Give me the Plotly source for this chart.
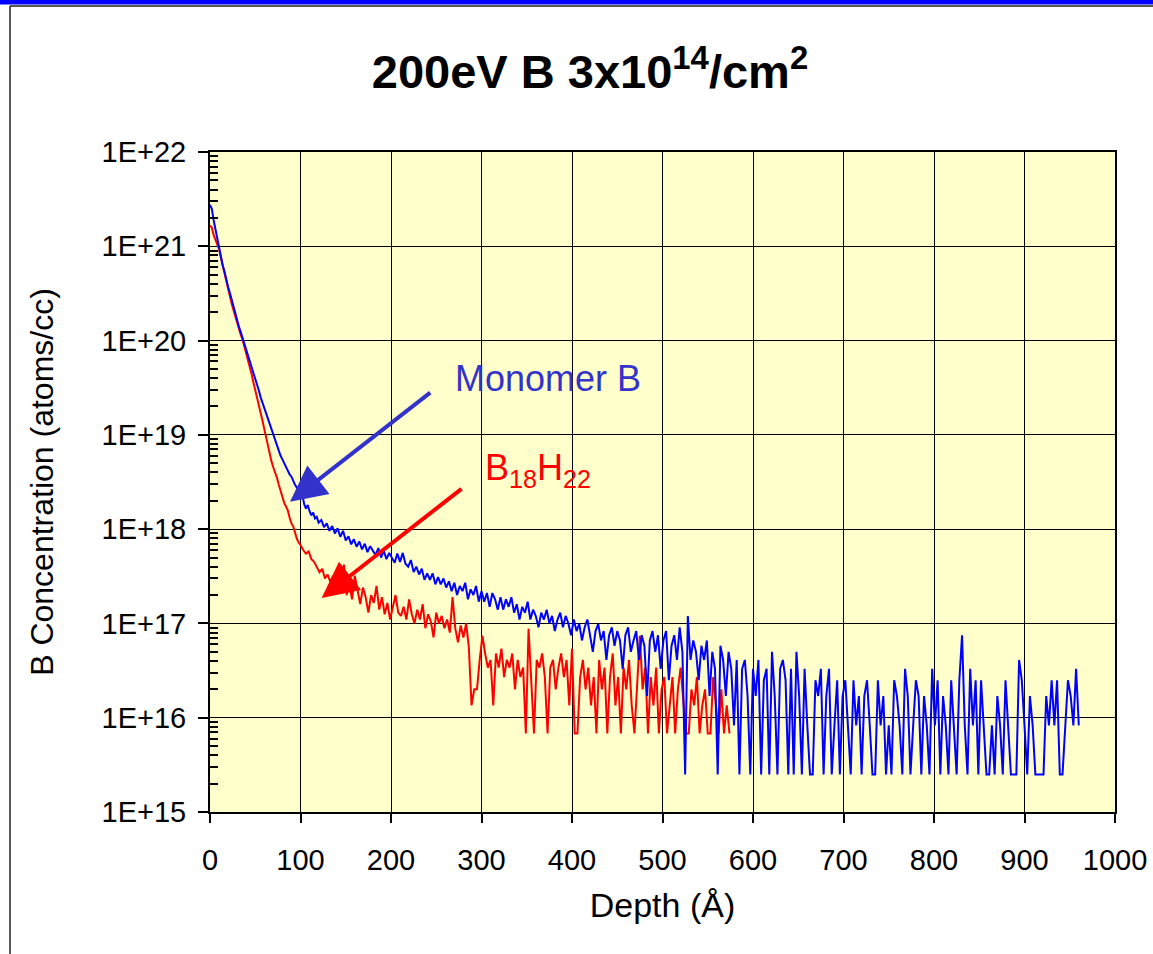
import plotly.graph_objects as go

# ---------------- data ----------------
blue_depth = [
    0, 2, 4, 6, 8, 10, 12, 14, 16, 18,
    20, 22, 24, 26, 28, 30, 32, 34, 36, 38,
    40, 42, 44, 46, 48, 50, 52, 54, 56, 58,
    60, 62, 64, 66, 68, 70, 72, 74, 76, 78,
    80, 82, 84, 86, 88, 90, 92, 94, 96, 98,
    100, 102, 104, 106, 108, 110, 112, 114, 116, 118,
    120,
    123, 126, 129, 132, 135, 138, 141, 144, 147, 150,
    153, 156, 159, 162, 165, 168, 171, 174, 177, 180,
    183, 186, 189, 192, 195, 198, 201, 204, 207, 210,
    213, 216, 219, 222, 225, 228, 231, 234, 237, 240,
    243, 246, 249, 252, 255, 258, 261, 264, 267, 270,
    273, 276, 279, 282, 285, 288, 291, 294, 297, 300,
    303, 306, 309, 312, 315, 318, 321, 324, 327, 330,
    333, 336, 339, 342, 345, 348, 351, 354, 357, 360,
    363, 366, 369, 372, 375, 378, 381, 384, 387, 390,
    393, 396, 399, 402, 405, 408, 411, 414, 417, 420,
    423, 426, 429, 432, 435, 438, 441, 444, 447, 450,
    453, 456, 459, 462, 465, 468, 471, 474, 477, 480,
    483, 486, 489, 492, 495, 498, 501, 504, 507, 510,
    513, 516, 519, 522, 525, 528, 531, 534, 537, 540,
    543, 546, 549, 552, 555, 558, 561, 564, 567, 570,
    573, 576, 579, 582, 585, 588, 591, 594, 597, 600,
    603, 606, 609, 612, 615, 618, 621, 624, 627, 630,
    633, 636, 639, 642, 645, 648, 651, 654, 657, 660,
    663, 666, 669, 672, 675, 678, 681, 684, 687, 690,
    693, 696, 699, 702, 705, 708, 711, 714, 717, 720,
    723, 726, 729, 732, 735, 738, 741, 744, 747, 750,
    753, 756, 759, 762, 765, 768, 771, 774, 777, 780,
    783, 786, 789, 792, 795, 798, 801, 804, 807, 810,
    813, 816, 819, 822, 825, 828, 831, 834, 837, 840,
    843, 846, 849, 852, 855, 858, 861, 864, 867, 870,
    873, 876, 879, 882, 885, 888, 891, 894, 897, 900,
    903, 906, 909, 912, 915, 918, 921, 924, 927, 930,
    933, 936, 939, 942, 945, 948, 951, 954, 957, 960,
]
blue_conc = [
    2.75e21, 2.5e21, 1.9e21, 1.5e21, 1.2e21, 9.5e20, 7.8e20, 6.3e20, 5.4e20, 4.4e20,
    3.7e20, 3.2e20, 2.7e20, 2.3e20, 1.9e20, 1.65e20, 1.4e20, 1.23e20, 1.07e20, 9.5e19,
    8.3e19, 7.1e19, 6.2e19, 5.4e19, 4.6e19, 4.0e19, 3.4e19, 2.95e19, 2.5e19, 2.2e19,
    1.9e19, 1.65e19, 1.45e19, 1.26e19, 1.12e19, 1.0e19, 8.7e18, 7.6e18, 6.8e18, 6.0e18,
    5.5e18, 5.0e18, 4.6e18, 4.3e18, 3.8e18, 3.6e18, 3.2e18, 2.95e18, 2.75e18, 2.5e18,
    2.2e18, 2.35e18, 1.85e18, 1.65e18, 1.8e18, 1.55e18, 1.4e18, 1.5e18, 1.3e18, 1.35e18,
    1.17e18,
    1.25e18, 1.05e18, 1.15e18, 9.6e17, 1.08e18, 9.0e17, 1.02e18, 8.3e17, 9.6e17, 7.6e17,
    8.4e17, 6.9e17, 7.8e17, 6.5e17, 7.4e17, 6.1e17, 7.0e17, 5.7e17, 6.6e17, 6.0e17,
    5.3e17, 6.3e17, 5.0e17, 5.9e17, 4.8e17, 5.6e17, 5.0e17, 4.4e17, 5.5e17, 4.5e17,
    5.6e17, 4.3e17, 4.0e17, 4.7e17, 3.5e17, 4.0e17, 3.3e17, 3.8e17, 2.9e17, 3.4e17,
    2.9e17, 3.4e17, 2.6e17, 3.1e17, 2.6e17, 3.0e17, 2.4e17, 2.8e17, 2.2e17, 2.7e17,
    2.0e17, 2.5e17, 2.2e17, 2.7e17, 1.8e17, 2.3e17, 2.0e17, 2.5e17, 1.7e17, 2.2e17,
    1.7e17, 2.1e17, 1.5e17, 2.1e17, 1.8e17, 1.4e17, 1.9e17, 1.4e17, 1.8e17, 1.5e17,
    1.9e17, 1.3e17, 1.6e17, 1.1e17, 1.5e17, 1.3e17, 1.7e17, 1.1e17, 1.4e17, 1.2e17,
    9.1e16, 1.3e17, 1.1e17, 1.4e17, 1.0e17, 1.2e17, 8.3e16, 1.1e17, 1.3e17, 9.1e16,
    1.2e17, 1.0e17, 7.5e16, 1.1e17, 8.3e16, 9.9e16, 6.6e16, 9.1e16, 1.1e17, 7.5e16,
    5.0e16, 8.3e16, 9.9e16, 6.6e16, 8.3e16, 4.1e16, 7.5e16, 9.1e16, 5.8e16, 8.3e16,
    6.6e16, 3.3e16, 7.5e16, 9.1e16, 5.0e16, 6.6e16, 8.3e16, 4.1e16, 7.5e16, 5.8e16,
    1.7e16, 6.6e16, 8.3e16, 5.0e16, 7.5e16, 3.3e16, 6.6e16, 8.3e16, 2.5e16, 5.8e16,
    7.5e16, 4.1e16, 9.1e16, 5.0e16, 2.5e15, 1.2e17, 4.1e16, 6.6e16, 5.0e16, 2.5e16,
    5.8e16, 4.1e16, 6.6e16, 1.7e16, 5.0e16, 3.3e16, 2.5e15, 5.8e16, 4.1e16, 1.7e16,
    5.0e16, 3.3e16, 8.3e15, 4.1e16, 2.5e15, 3.3e16, 4.1e16, 1.7e16, 2.5e15, 3.3e16,
    1.7e16, 4.1e16, 2.5e15, 2.5e16, 3.3e16, 2.5e15, 5.0e16, 1.7e16, 2.5e15, 3.3e16,
    4.1e16, 2.5e16, 2.5e15, 3.3e16, 2.5e15, 5.0e16, 1.7e16, 2.5e15, 3.3e16, 8.3e15,
    2.5e15, 2.5e15, 2.5e16, 1.7e16, 3.3e16, 2.5e15, 1.7e16, 3.3e16, 2.5e15, 8.3e15,
    2.5e16, 2.5e15, 1.7e16, 2.5e16, 8.3e15, 2.5e15, 2.5e16, 8.3e15, 1.7e16, 2.5e15,
    1.7e16, 2.5e16, 8.3e15, 2.5e15, 2.5e15, 2.5e16, 8.3e15, 1.7e16, 2.5e15, 8.3e15,
    2.5e15, 2.5e16, 1.7e16, 8.3e15, 2.5e15, 3.3e16, 1.7e16, 2.5e15, 8.3e15, 2.5e16,
    1.7e16, 2.5e15, 1.7e16, 8.3e15, 2.5e15, 3.3e16, 8.3e15, 2.5e16, 2.5e15, 1.7e16,
    8.3e15, 2.5e15, 2.5e16, 8.3e15, 2.5e15, 2.5e16, 7.5e16, 8.3e15, 2.5e15, 3.3e16,
    8.3e15, 2.5e16, 2.5e15, 2.5e16, 8.3e15, 2.5e15, 2.5e15, 8.3e15, 2.5e15, 1.7e16,
    8.3e15, 2.5e15, 2.5e16, 8.3e15, 2.5e15, 2.5e15, 2.5e15, 4.1e16, 2.5e16, 8.3e15,
    2.5e15, 1.7e16, 8.3e15, 2.5e15, 2.5e15, 2.5e15, 2.5e15, 1.7e16, 8.3e15, 2.5e16,
    8.3e15, 2.5e16, 2.5e15, 2.5e15, 8.3e15, 2.5e16, 1.7e16, 8.3e15, 3.3e16, 8.3e15,
]

red_depth = [
    0, 2, 4, 6, 8, 10, 12, 14, 16, 18,
    20, 22, 24, 26, 28, 30, 32, 34, 36, 38,
    40, 42, 44, 46, 48, 50, 52, 54, 56, 58,
    60, 62, 64, 66, 68, 70, 72, 74, 76, 78,
    80, 82, 84, 86, 88, 90, 92, 94, 96, 98,
    100,
    103, 106, 109, 112, 115, 118, 121, 124, 127, 130,
    133, 136, 139, 142, 145, 148, 151, 154, 157, 160,
    163, 166, 169, 172, 175, 178, 181, 184, 187, 190,
    193, 196, 199, 202, 205, 208, 211, 214, 217, 220,
    223, 226, 229, 232, 235, 238, 241, 244, 247, 250,
    253, 256, 259, 262, 265, 268, 271, 274, 277, 280,
    283, 286, 289, 292, 295, 298, 301, 304, 307, 310,
    313, 316, 319, 322, 325, 328, 331, 334, 337, 340,
    343, 346, 349, 352, 355, 358, 361, 364, 367, 370,
    373, 376, 379, 382, 385, 388, 391, 394, 397, 400,
    403, 406, 409, 412, 415, 418, 421, 424, 427, 430,
    433, 436, 439, 442, 445, 448, 451, 454, 457, 460,
    463, 466, 469, 472, 475, 478, 481, 484, 487, 490,
    493, 496, 499, 502, 505, 508, 511, 514, 517, 520,
    523, 526, 529, 532, 535, 538, 541, 544, 547, 550,
    553, 556, 559, 562, 565, 568, 571, 574,
]
red_conc = [
    1.66e21, 1.58e21, 1.32e21, 1.17e21, 1.07e21, 9.3e20, 7.6e20, 6.2e20, 5.0e20, 4.2e20,
    3.5e20, 2.95e20, 2.45e20, 2.1e20, 1.74e20, 1.55e20, 1.32e20, 1.15e20, 1.02e20, 8.7e19,
    7.2e19, 6.2e19, 5.2e19, 4.4e19, 3.6e19, 3.0e19, 2.6e19, 2.1e19, 1.74e19, 1.41e19,
    1.15e19, 9.3e18, 7.8e18, 6.3e18, 5.2e18, 4.5e18, 4.0e18, 3.5e18, 2.95e18, 2.5e18,
    2.1e18, 1.9e18, 1.74e18, 1.58e18, 1.32e18, 1.15e18, 1.07e18, 8.9e17, 7.9e17, 7.2e17,
    6.8e17,
    6.0e17, 5.5e17, 5.8e17, 4.8e17, 4.5e17, 4.0e17, 3.5e17, 3.8e17, 3.0e17, 3.3e17,
    2.75e17, 3.2e17, 2.4e17, 2.8e17, 2.15e17, 4.2e17, 2.0e17, 2.6e17, 1.8e17, 3.2e17,
    2.2e17, 1.6e17, 2.4e17, 1.9e17, 1.3e17, 2.0e17, 1.65e17, 2.5e17, 1.4e17, 1.9e17,
    1.25e17, 1.65e17, 1.1e17, 1.5e17, 2.0e17, 1.3e17, 1.2e17, 1.5e17, 1.1e17, 1.8e17,
    1.25e17, 1.0e17, 1.4e17, 1.1e17, 1.6e17, 8.9e16, 1.25e17, 1.05e17, 7.1e16, 1.3e17,
    1.0e17, 1.2e17, 8.9e16, 1.1e17, 8.0e16, 1.9e17, 8.9e16, 6.3e16, 9.5e16, 7.1e16,
    1.0e17, 5.6e16, 1.35e16, 2.0e16, 2.0e16, 4.1e16, 7.4e16, 4.8e16, 3.4e16, 4.1e16,
    1.35e16, 4.8e16, 3.4e16, 5.4e16, 2.7e16, 4.1e16, 3.4e16, 4.8e16, 2.0e16, 4.1e16,
    2.7e16, 3.4e16, 6.8e15, 8.8e16, 2.7e16, 6.8e15, 4.1e16, 3.4e16, 4.8e16, 2.7e16,
    6.8e15, 3.4e16, 4.1e16, 2.0e16, 3.4e16, 4.8e16, 2.7e16, 4.1e16, 1.35e16, 5.4e16,
    6.8e15, 6.8e15, 2.7e16, 4.1e16, 2.0e16, 3.4e16, 1.35e16, 2.7e16, 6.8e15, 4.1e16,
    2.0e16, 3.4e16, 6.8e15, 2.7e16, 4.8e16, 1.35e16, 2.7e16, 6.8e15, 3.4e16, 2.0e16,
    4.1e16, 1.35e16, 6.8e15, 2.7e16, 7.4e16, 2.0e16, 3.4e16, 6.8e15, 2.7e16, 1.35e16,
    3.4e16, 6.8e15, 2.0e16, 2.7e16, 6.8e15, 1.35e16, 2.7e16, 6.8e15, 2.0e16, 3.4e16,
    1.35e16, 6.8e15, 6.8e15, 2.0e16, 1.35e16, 2.7e16, 6.8e15, 1.35e16, 2.0e16, 6.8e15,
    6.8e15, 2.7e16, 1.35e16, 6.8e15, 2.0e16, 6.8e15, 1.35e16, 6.8e15,
]

y_tick_vals = [1e15, 1e16, 1e17, 1e18, 1e19, 1e20, 1e21, 1e22]
y_tick_text = ["1E+15", "1E+16", "1E+17", "1E+18", "1E+19", "1E+20", "1E+21", "1E+22"]
x_tick_vals = [0, 100, 200, 300, 400, 500, 600, 700, 800, 900, 1000]

title_text = "<b>200eV B 3x10<sup>14</sup>/cm<sup>2</sup></b>"
x_title = "Depth (Å)"
y_title = "B Concentration (atoms/cc)"
label_blue = "Monomer B"
label_red = "B<sub>18</sub>H<sub>22</sub>"

# ---------------- figure ----------------
W, H = 1153, 954
L, R, T, B = 210, 1115, 152, 812


def px(xp):
    return (xp - L) / (R - L)


def py(yp):
    return (B - yp) / (B - T)


minor_vals = [float(m) * 10.0 ** e for e in range(15, 22) for m in range(2, 10)]

FONT = "Arial, 'Liberation Sans', Helvetica, sans-serif"
BLUE_TXT = "#3333CC"

fig = go.Figure()
fig.add_trace(go.Scatter(x=red_depth, y=red_conc, mode="lines",
                         line=dict(color="#FF0000", width=2), name="B18H22"))
fig.add_trace(go.Scatter(x=blue_depth, y=blue_conc, mode="lines",
                         line=dict(color="#0000FF", width=2), name="Monomer B"))

fig.update_layout(
    width=W, height=H, autosize=False,
    margin=dict(l=L, r=W - R, t=T, b=H - B, autoexpand=False),
    paper_bgcolor="white", plot_bgcolor="#FFFFCC",
    showlegend=False,
    font=dict(family=FONT, color="black"),
    title=dict(text=title_text, xref="container", yref="container",
               x=590 / W, xanchor="center", y=1 - 72 / H, yanchor="middle",
               font=dict(size=47, color="black", family=FONT)),
)

fig.update_xaxes(
    range=[0, 1000], tickvals=x_tick_vals,
    showgrid=True, gridcolor="black", gridwidth=1, zeroline=False,
    ticks="outside", ticklen=9, tickwidth=1.5, tickcolor="black",
    showline=True, linecolor="black", linewidth=2, mirror=True,
    tickfont=dict(size=29), ticklabelstandoff=12,
    title=dict(text=x_title, font=dict(size=34), standoff=18),
)
fig.update_yaxes(
    type="log", range=[15, 22], tickvals=y_tick_vals, ticktext=y_tick_text,
    showgrid=True, gridcolor="black", gridwidth=1, zeroline=False,
    ticks="outside", ticklen=10, tickwidth=1.5, tickcolor="black",
    showline=True, linecolor="black", linewidth=2, mirror=True,
    tickfont=dict(size=29), ticklabelstandoff=6,
    minor=dict(tickvals=minor_vals, ticks="inside", ticklen=8, tickwidth=1.5,
               tickcolor="black", showgrid=False),
    title=dict(text=y_title, font=dict(size=32), standoff=38),
)

# arrows (tip -> data, tail -> data; log axis positions in log10 units)
fig.add_annotation(x=88.4, y=18.29, ax=245, ay=19.46, xref="x", yref="y",
                   axref="x", ayref="y", text="", showarrow=True,
                   arrowhead=2, arrowsize=1.8, arrowwidth=4, arrowcolor=BLUE_TXT)
fig.add_annotation(x=123.4, y=17.27, ax=279.6, ay=18.44, xref="x", yref="y",
                   axref="x", ayref="y", text="", showarrow=True,
                   arrowhead=2, arrowsize=1.8, arrowwidth=4, arrowcolor="#FF0000")
fig.add_annotation(x=268.5, y=19.60, xref="x", yref="y", text=label_blue,
                   showarrow=False, xanchor="left", yanchor="middle",
                   font=dict(size=36, color=BLUE_TXT, family=FONT))
fig.add_annotation(x=302.0, y=18.63, xref="x", yref="y", text=label_red,
                   showarrow=False, xanchor="left", yanchor="middle",
                   font=dict(size=36, color="#FF0000", family=FONT))

# slide frame: blue bar at top, thin black frame lines
fig.add_shape(type="rect", xref="paper", yref="paper",
              x0=px(-5), x1=px(W + 5), y0=py(4.5), y1=py(-5),
              fillcolor="#0000FF", line=dict(width=0), layer="above")
fig.add_shape(type="line", xref="paper", yref="paper",
              x0=px(10), x1=px(W + 5), y0=py(6), y1=py(6),
              line=dict(color="#222222", width=1.5), layer="above")
fig.add_shape(type="line", xref="paper", yref="paper",
              x0=px(10), x1=px(10), y0=py(6), y1=py(H + 5),
              line=dict(color="#222222", width=1.5), layer="above")

fig.write_html(
    "out.html",
    config={"displayModeBar": False},
    post_script="document.body.style.margin='0px';document.body.style.overflow='hidden';",
)
